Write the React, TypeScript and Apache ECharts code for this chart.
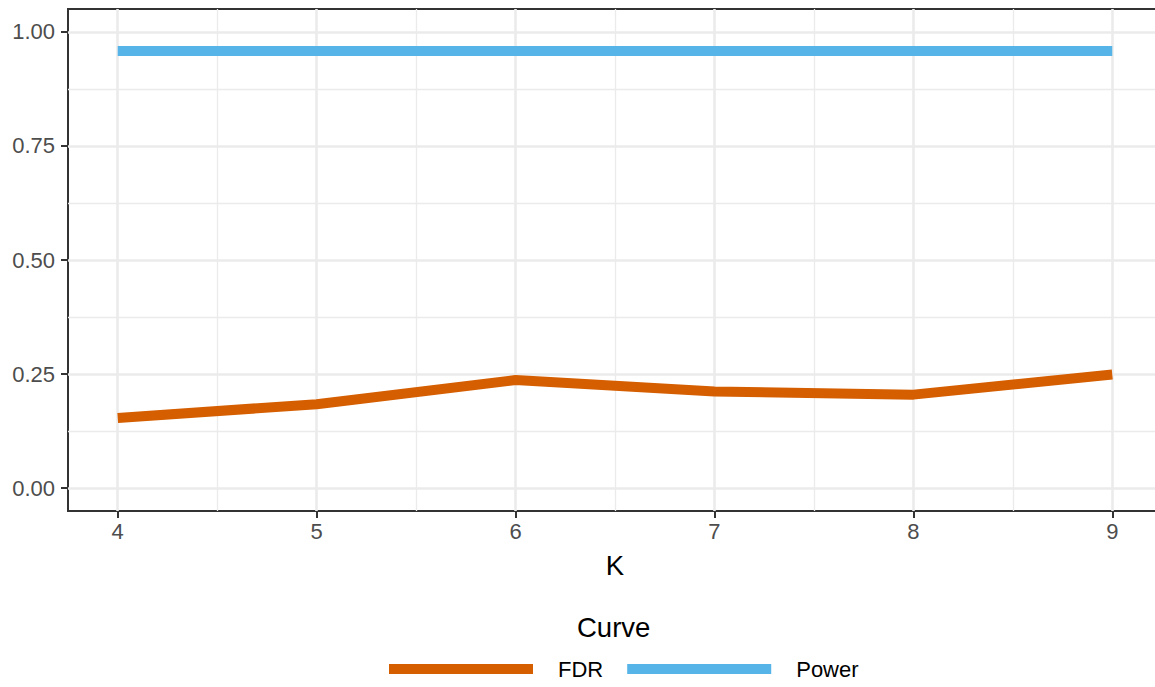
import React, { useEffect, useRef } from "react";
import * as echarts from "echarts";

const K = [4, 5, 6, 7, 8, 9];
const FDR = [0.154, 0.184, 0.237, 0.212, 0.205, 0.249];
const POWER = [0.958, 0.958, 0.958, 0.958, 0.958, 0.958];
const X_TICKS = [4, 5, 6, 7, 8, 9];
const X_MINOR = [4.5, 5.5, 6.5, 7.5, 8.5];
const Y_TICKS = [0, 0.25, 0.5, 0.75, 1];
const Y_MINOR = [0.125, 0.375, 0.625, 0.875];
const SERIES_NAMES = ["FDR", "Power"];

const FONT = "'Liberation Sans', Arial, Helvetica, sans-serif";

export default function App() {
  const ref = useRef<HTMLDivElement>(null);
  useEffect(() => {
    if (!ref.current) return;
    const chart = echarts.init(ref.current, null, { renderer: "svg" });
    const xMin = 3.75;
    const xMax = 9.25;
    const yMin = -0.05;
    const yMax = 1.05;
    chart.setOption({
      animation: false,
      backgroundColor: "#ffffff",
      textStyle: { fontFamily: FONT },
      title: {
        text: "Curve",
        left: 577,
        top: 613,
        padding: 0,
        textStyle: { fontFamily: FONT, fontSize: 27.5, fontWeight: "normal", color: "#000000" },
      },
      legend: {
        data: SERIES_NAMES,
        left: 389,
        top: 658,
        padding: 0,
        icon: "rect",
        itemWidth: 144,
        itemHeight: 10,
        itemGap: 24,
        selectedMode: false,
        textStyle: { fontFamily: FONT, fontSize: 22, color: "#000000", padding: [0, 0, 0, 20] },
      },
      grid: {
        left: 68,
        right: 0,
        top: 9,
        bottom: 176,
        show: true,
        borderColor: "#333333",
        borderWidth: 2,
        backgroundColor: "transparent",
      },
      xAxis: [
        {
          type: "value",
          min: xMin,
          max: xMax,
          position: "bottom",
          name: "K",
          nameLocation: "middle",
          nameGap: 40,
          nameTextStyle: { fontFamily: FONT, fontSize: 27.5, color: "#000000" },
          axisLine: { show: false, onZero: false },
          axisTick: { show: true, customValues: X_TICKS, length: 7, lineStyle: { color: "#333333", width: 2 } },
          axisLabel: { customValues: X_TICKS, margin: 9, fontSize: 22, color: "#4D4D4D", fontFamily: FONT },
          splitLine: { show: true, lineStyle: { color: "#EBEBEB", width: 2.6 } },
        },
        {
          type: "value",
          min: xMin,
          max: xMax,
          position: "bottom",
          axisLine: { show: false, onZero: false },
          axisTick: { show: false, customValues: X_MINOR },
          axisLabel: { show: false, customValues: X_MINOR },
          splitLine: { show: true, lineStyle: { color: "#EBEBEB", width: 1.3 } },
        },
      ],
      yAxis: [
        {
          type: "value",
          min: yMin,
          max: yMax,
          position: "left",
          axisLine: { show: false, onZero: false },
          axisTick: { show: true, customValues: Y_TICKS, length: 7, lineStyle: { color: "#333333", width: 2 } },
          axisLabel: {
            customValues: Y_TICKS,
            margin: 13,
            fontSize: 22,
            color: "#4D4D4D",
            fontFamily: FONT,
            formatter: (v: number) => v.toFixed(2),
          },
          splitLine: { show: true, lineStyle: { color: "#EBEBEB", width: 2.6 } },
        },
        {
          type: "value",
          min: yMin,
          max: yMax,
          position: "left",
          axisLine: { show: false, onZero: false },
          axisTick: { show: false, customValues: Y_MINOR },
          axisLabel: { show: false, customValues: Y_MINOR },
          splitLine: { show: true, lineStyle: { color: "#EBEBEB", width: 1.3 } },
        },
      ],
      series: [
        {
          name: SERIES_NAMES[0],
          type: "line",
          xAxisIndex: 0,
          yAxisIndex: 0,
          data: K.map((k, i) => [k, FDR[i]]),
          symbol: "none",
          itemStyle: { color: "#D55E00" },
          lineStyle: { color: "#D55E00", width: 10, join: "round", cap: "butt" },
          z: 3,
        },
        {
          name: SERIES_NAMES[1],
          type: "line",
          xAxisIndex: 0,
          yAxisIndex: 0,
          data: K.map((k, i) => [k, POWER[i]]),
          symbol: "none",
          itemStyle: { color: "#56B4E9" },
          lineStyle: { color: "#56B4E9", width: 10, join: "round", cap: "butt" },
          z: 3,
        },
      ],
    });
    return () => chart.dispose();
  }, []);
  return (
    <div
      style={{ position: "absolute", left: 0, top: 0, width: 1155, height: 687, overflow: "hidden" }}
    >
      <div ref={ref} style={{ position: "absolute", left: 0, top: 0, width: 1162, height: 687 }} />
    </div>
  );
}
